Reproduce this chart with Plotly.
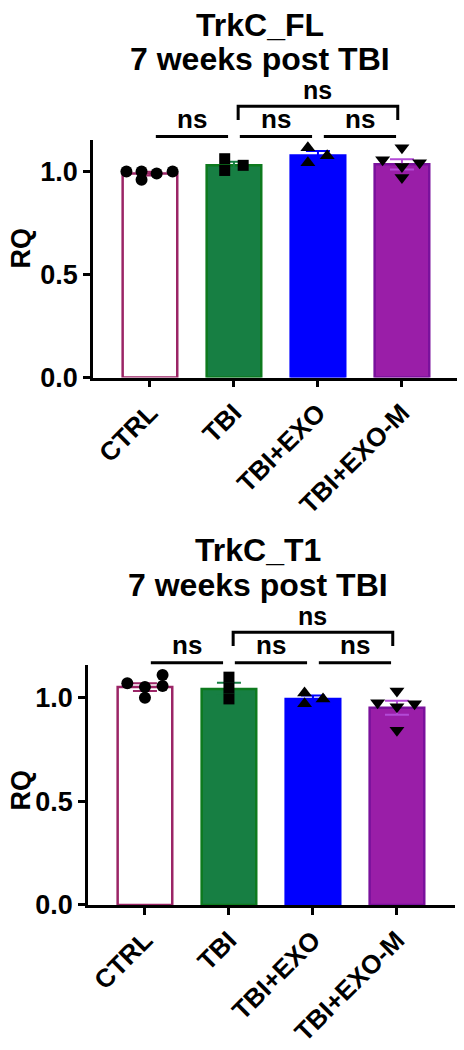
import plotly.graph_objects as go

# ---------------- data ----------------
categories = ["CTRL", "TBI", "TBI+EXO", "TBI+EXO-M"]

fl_means = [0.990, 1.030, 1.078, 1.035]
fl_sem = [0.009, 0.017, 0.021, 0.025]
t1_means = [1.052, 1.043, 0.995, 0.952]
t1_sem = [0.019, 0.030, 0.016, 0.034]

fl_ctrl = [1.00, 1.00, 0.96, 0.99, 1.00]
fl_tbi = [1.062, 1.005, 1.030]
fl_exo = [1.115, 1.043, 1.077]
fl_exom = [1.115, 1.057, 1.024, 1.043, 0.971]

t1_ctrl = [1.071, 1.052, 1.000, 1.110, 1.057]
t1_tbi = [1.100, 1.048, 0.995]
t1_exo = [1.024, 0.971, 0.995]
t1_exom = [1.033, 0.976, 0.957, 0.971, 0.843]

# horizontal scatter of the individual points (category units)
fl_ctrl_jit = [-0.28, -0.10, -0.10, 0.08, 0.27]
fl_tbi_jit = [-0.11, -0.11, 0.11]
fl_exo_jit = [-0.12, -0.12, 0.11]
fl_exom_jit = [0.0, -0.23, 0.0, 0.21, 0.0]
t1_ctrl_jit = [-0.21, 0.0, 0.0, 0.21, 0.21]
t1_tbi_jit = [0.0, 0.0, 0.0]
t1_exo_jit = [-0.10, -0.10, 0.12]
t1_exom_jit = [0.0, -0.23, 0.0, 0.21, 0.0]

pair_comparisons = [(0, 1), (1, 2), (2, 3)]
bracket_comparison = (1, 3)
sig_label = "ns"

titles = [("TrkC_FL", "7 weeks post TBI"), ("TrkC_T1", "7 weeks post TBI")]
y_ticks = [0.0, 0.5, 1.0]
y_ticktext = ["0.0", "0.5", "1.0"]

# ---------------- style ----------------
W, H = 464, 1050
FONT = "Arial, 'Liberation Sans', Helvetica, sans-serif"
fill_colors = ["#FFFFFF", "#177F43", "#0000FF", "#9A1EA8"]
line_colors = ["#9B2566", "#0D7A1E", "#0000FF", "#7A119C"]
err_colors = ["#9B2566", "#177F43", "#0000FF", "#B34AD6"]
symbols = ["circle", "square", "triangle-up", "triangle-down"]
marker_sizes = [12, 11, 13, 13]

fig = go.Figure()

panels = [
    dict(xa="x", ya="y", means=fl_means, sem=fl_sem,
         pts=[fl_ctrl, fl_tbi, fl_exo, fl_exom],
         jit=[fl_ctrl_jit, fl_tbi_jit, fl_exo_jit, fl_exom_jit],
         xdom_px=(93, 457), ydom_px=(383, 142), yrange=(0, 1.153),
         title=titles[0], title_px=(260, 25, 60), rq_px=(21, 252)),
    dict(xa="x2", ya="y2", means=t1_means, sem=t1_sem,
         pts=[t1_ctrl, t1_tbi, t1_exo, t1_exom],
         jit=[t1_ctrl_jit, t1_tbi_jit, t1_exo_jit, t1_exom_jit],
         xdom_px=(88, 455), ydom_px=(918, 675), yrange=(0, 1.157),
         title=titles[1], title_px=(258, 558, 593), rq_px=(21, 802)),
]

xpos = list(range(len(categories)))
annotations = []
shapes = []

for k, p in enumerate(panels):
    # bars
    fig.add_trace(go.Bar(
        x=xpos, y=p["means"], width=0.65,
        marker=dict(color=fill_colors, line=dict(color=line_colors, width=2.5)),
        xaxis=p["xa"], yaxis=p["ya"], showlegend=False, hoverinfo="skip",
    ))
    # SEM error bars, one colour per group
    for i in range(len(categories)):
        fig.add_trace(go.Scatter(
            x=[xpos[i]], y=[p["means"][i]], mode="markers",
            marker=dict(size=1, color="rgba(0,0,0,0)"),
            error_y=dict(type="data", array=[p["sem"][i]], visible=True,
                         thickness=2, width=12, color=err_colors[i]),
            xaxis=p["xa"], yaxis=p["ya"], showlegend=False, hoverinfo="skip",
        ))
    # individual points
    for i in range(len(categories)):
        fig.add_trace(go.Scatter(
            x=[xpos[i] + j for j in p["jit"][i]], y=p["pts"][i], mode="markers",
            marker=dict(symbol=symbols[i], size=marker_sizes[i],
                        color="black", line=dict(width=0)),
            cliponaxis=False,
            xaxis=p["xa"], yaxis=p["ya"], showlegend=False, hoverinfo="skip",
        ))

    yd0 = 1 - p["ydom_px"][0] / H
    yd1 = 1 - p["ydom_px"][1] / H
    r0, r1 = p["yrange"]

    def ypaper(v, yd0=yd0, yd1=yd1, r0=r0, r1=r1):
        return yd0 + (v - r0) / (r1 - r0) * (yd1 - yd0)

    # significance lines
    lw = 3
    for (a, b) in pair_comparisons:
        mid = (a + b) / 2
        shapes.append(dict(type="line", xref=p["xa"], yref="paper",
                           x0=mid - 0.43, x1=mid + 0.43,
                           y0=ypaper(1.17), y1=ypaper(1.17),
                           line=dict(color="black", width=lw)))
        annotations.append(dict(xref=p["xa"], yref="paper", x=mid, y=ypaper(1.255),
                                text=f"<b>{sig_label}</b>", showarrow=False,
                                font=dict(family=FONT, size=26, color="black"),
                                yanchor="middle"))
    a, b = bracket_comparison
    shapes.append(dict(type="path", xref=p["xa"], yref="paper",
                       path=(f"M {a + 0.05},{ypaper(1.25)} L {a + 0.05},{ypaper(1.317)} "
                             f"L {b - 0.05},{ypaper(1.317)} L {b - 0.05},{ypaper(1.25)}"),
                       line=dict(color="black", width=lw)))
    annotations.append(dict(xref=p["xa"], yref="paper", x=(a + b) / 2, y=ypaper(1.395),
                            text=f"<b>{sig_label}</b>", showarrow=False,
                            font=dict(family=FONT, size=25, color="black"),
                            yanchor="middle"))

    # titles
    tx, ty1, ty2 = p["title_px"]
    for line_text, ty in zip(p["title"], (ty1, ty2)):
        annotations.append(dict(xref="paper", yref="paper", x=tx / W, y=1 - ty / H,
                                text=f"<b>{line_text}</b>", showarrow=False,
                                font=dict(family=FONT, size=32, color="black"),
                                xanchor="center", yanchor="middle"))
    # y title
    rx, ry = p["rq_px"]
    annotations.append(dict(xref="paper", yref="paper", x=rx / W, y=1 - ry / H,
                            text="<b>RQ</b>", showarrow=False, textangle=-90,
                            font=dict(family=FONT, size=27, color="black"),
                            xanchor="center", yanchor="middle"))

    axis_common = dict(showgrid=False, zeroline=False, showline=True,
                       linecolor="black", linewidth=2.5, ticks="outside",
                       ticklen=7, tickwidth=2.5, tickcolor="black")
    xkey = "xaxis" if p["xa"] == "x" else "xaxis2"
    ykey = "yaxis" if p["ya"] == "y" else "yaxis2"
    xd0, xd1 = p["xdom_px"][0] / W, p["xdom_px"][1] / W
    unit = (p["xdom_px"][1] - p["xdom_px"][0])
    fig.update_layout(**{
        xkey: dict(axis_common, domain=[xd0, xd1], anchor=p["ya"],
                   range=[-0.678, -0.678 + unit / 84.0],
                   tickvals=xpos, ticktext=categories, tickangle=-45,
                   tickfont=dict(family=FONT, size=26, color="black", weight="bold")),
        ykey: dict(axis_common, domain=[yd0, yd1], anchor=p["xa"],
                   range=list(p["yrange"]), tickvals=y_ticks, ticktext=y_ticktext,
                   tickfont=dict(family=FONT, size=27, color="black", weight="bold")),
    })

fig.update_layout(
    width=W, height=H, margin=dict(l=0, r=0, t=0, b=0),
    paper_bgcolor="white", plot_bgcolor="white",
    font=dict(family=FONT, color="black"),
    annotations=annotations, shapes=shapes, bargap=0.35,
)

fig.write_html("out.html", config={"displayModeBar": False},
               post_script="document.body.style.margin='0';document.body.style.padding='0';")
